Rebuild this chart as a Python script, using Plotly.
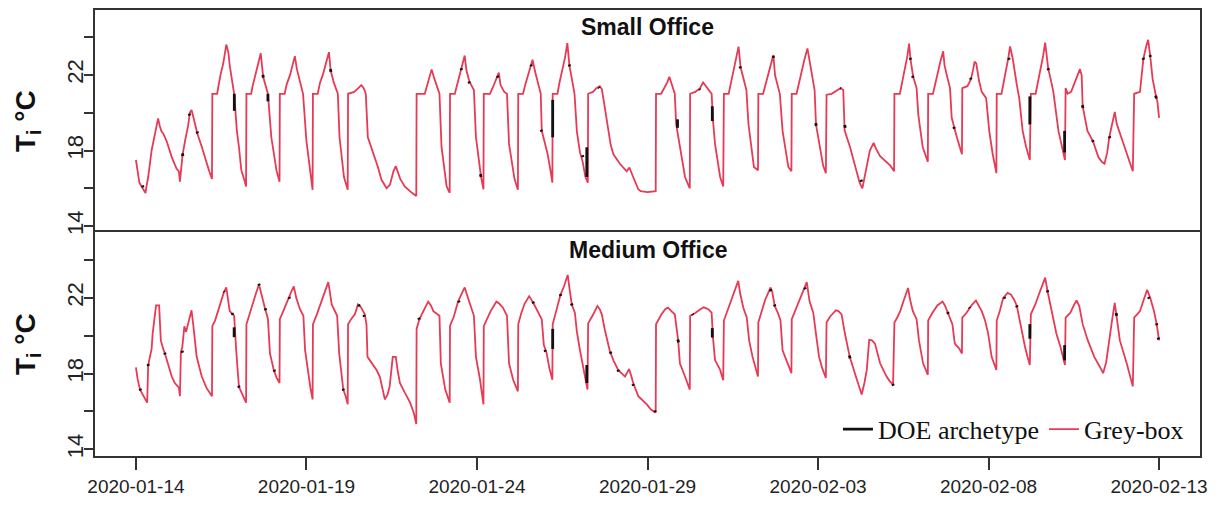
import pandas as pd
import plotly.graph_objects as go

START = pd.Timestamp("2020-01-14")

# ---------------- data (day offset since 2020-01-14 00:00, indoor temperature degC) -------------
small_grey = [
    (0.00, 17.5), (0.05, 17.0), (0.10, 16.3), (0.20, 16.0), (0.26, 15.8), (0.28, 15.75), (0.31, 16.1),
    (0.36, 16.6), (0.46, 18.0), (0.53, 18.7), (0.60, 19.4), (0.65, 19.7), (0.70, 19.3), (0.75, 19.0),
    (0.80, 18.9), (0.90, 18.5), (1.05, 17.65), (1.19, 17.05), (1.26, 16.9), (1.29, 16.35), (1.32, 16.9),
    (1.37, 17.8), (1.45, 18.6), (1.53, 19.3), (1.58, 20.0), (1.63, 20.15), (1.68, 19.8), (1.73, 19.4),
    (1.80, 18.9), (1.93, 18.2), (2.07, 17.3), (2.15, 16.9), (2.23, 16.5),
    (2.24, 21.0), (2.38, 21.0), (2.42, 21.45), (2.48, 22.0), (2.56, 22.6), (2.61, 23.2), (2.65, 23.6),
    (2.71, 23.2), (2.75, 22.5), (2.88, 21.0), (2.90, 20.4), (2.96, 19.04), (3.02, 18.2), (3.09, 16.96),
    (3.17, 16.5), (3.23, 16.1),
    (3.24, 21.0), (3.38, 21.0), (3.42, 21.4), (3.50, 22.0), (3.58, 22.5), (3.66, 23.14), (3.73, 21.9),
    (3.80, 21.4), (3.87, 21.0), (3.97, 18.7), (4.05, 17.8), (4.12, 16.96), (4.21, 16.35),
    (4.22, 21.0), (4.36, 21.0), (4.42, 21.5), (4.52, 22.0), (4.60, 22.5), (4.66, 22.99), (4.72, 22.3),
    (4.82, 21.6), (4.90, 21.0), (5.00, 18.5), (5.10, 16.96), (5.18, 15.92),
    (5.19, 21.0), (5.33, 21.0), (5.40, 21.6), (5.48, 22.0), (5.57, 22.6), (5.66, 23.2), (5.71, 22.24),
    (5.80, 21.6), (5.92, 21.0), (5.97, 18.7), (6.10, 16.6), (6.21, 15.92),
    (6.22, 21.0), (6.40, 21.1), (6.52, 21.3), (6.61, 21.46), (6.68, 21.3), (6.74, 21.0), (6.80, 18.7),
    (6.90, 18.2), (7.01, 17.65), (7.10, 17.1), (7.20, 16.45), (7.28, 16.2), (7.35, 16.0), (7.45, 16.2),
    (7.55, 16.9), (7.62, 17.17), (7.68, 16.9), (7.75, 16.5), (7.88, 16.1), (8.00, 15.9), (8.10, 15.75),
    (8.22, 15.6),
    (8.23, 21.0), (8.47, 21.0), (8.55, 21.5), (8.62, 22.0), (8.67, 22.29), (8.75, 21.8), (8.82, 21.4),
    (8.90, 21.0), (8.96, 18.2), (9.05, 16.8), (9.11, 16.1), (9.20, 15.76),
    (9.21, 21.0), (9.35, 21.0), (9.42, 21.5), (9.50, 22.0), (9.57, 22.5), (9.64, 23.02), (9.69, 22.24),
    (9.78, 21.64), (9.91, 21.2), (9.97, 18.7), (10.12, 16.6), (10.19, 15.95),
    (10.20, 21.0), (10.38, 21.0), (10.48, 21.4), (10.58, 21.9), (10.64, 22.12), (10.69, 21.46),
    (10.80, 21.1), (10.88, 21.0), (10.94, 18.35), (11.10, 16.5), (11.20, 15.92),
    (11.21, 21.0), (11.35, 21.0), (11.42, 21.5), (11.50, 22.0), (11.56, 22.5), (11.63, 22.8),
    (11.70, 22.2), (11.78, 21.6), (11.84, 21.2), (11.87, 21.0), (11.90, 19.04), (12.07, 17.83),
    (12.15, 17.0), (12.21, 16.3),
    (12.22, 21.0), (12.36, 21.0), (12.42, 21.6), (12.50, 22.2), (12.58, 22.9), (12.65, 23.68),
    (12.71, 22.5), (12.80, 21.6), (12.86, 21.0), (12.93, 19.0), (13.02, 17.9), (13.10, 17.4),
    (13.18, 16.6), (13.25, 16.3),
    (13.26, 21.0), (13.40, 21.1), (13.50, 21.3), (13.60, 21.4), (13.66, 21.25), (13.72, 20.6),
    (13.85, 19.04), (13.92, 18.3), (14.00, 17.8), (14.19, 17.3), (14.39, 16.9), (14.47, 17.1),
    (14.58, 16.6), (14.73, 15.95), (14.80, 15.85), (15.00, 15.8), (15.24, 15.85),
    (15.25, 21.0), (15.40, 21.0), (15.50, 21.3), (15.58, 21.6), (15.64, 21.9), (15.71, 21.55),
    (15.80, 21.0), (15.84, 19.4), (15.93, 18.35), (16.10, 16.6), (16.24, 16.0),
    (16.25, 21.0), (16.40, 21.1), (16.54, 21.3), (16.63, 21.6), (16.75, 21.3), (16.88, 21.0),
    (16.92, 19.6), (16.98, 18.35), (17.13, 16.6), (17.22, 16.1),
    (17.24, 21.0), (17.38, 21.0), (17.45, 21.6), (17.52, 22.2), (17.60, 22.9), (17.67, 23.49),
    (17.73, 22.4), (17.82, 21.7), (17.90, 21.2), (17.96, 19.4), (18.12, 17.13), (18.24, 16.96),
    (18.25, 21.0), (18.39, 21.0), (18.46, 21.5), (18.55, 22.0), (18.62, 22.5), (18.69, 23.05),
    (18.74, 21.98), (18.82, 21.4), (18.88, 21.0), (18.96, 19.04), (19.13, 17.13), (19.22, 16.9),
    (19.23, 21.0), (19.37, 21.0), (19.44, 21.6), (19.52, 22.2), (19.60, 22.8), (19.69, 23.4),
    (19.77, 22.5), (19.86, 21.4), (19.90, 21.2), (19.94, 19.38), (20.06, 18.0), (20.15, 17.2),
    (20.23, 16.8),
    (20.25, 20.95), (20.40, 21.0), (20.55, 21.2), (20.66, 21.3), (20.74, 21.2), (20.78, 19.05),
    (20.94, 18.17), (21.11, 16.96), (21.22, 16.3), (21.30, 16.0), (21.43, 17.13), (21.52, 18.0),
    (21.63, 18.4), (21.70, 18.1), (21.82, 17.7), (22.01, 17.4), (22.12, 17.2), (22.23, 16.9),
    (22.24, 21.0), (22.40, 21.0), (22.47, 21.6), (22.55, 22.3), (22.62, 23.0), (22.67, 23.65),
    (22.71, 22.85), (22.79, 21.9), (22.89, 21.3), (22.94, 19.9), (23.07, 18.17), (23.22, 17.4),
    (23.23, 21.0), (23.37, 21.0), (23.44, 21.6), (23.52, 22.2), (23.60, 22.8), (23.67, 23.25),
    (23.71, 22.5), (23.80, 21.8), (23.87, 21.3), (23.92, 19.73), (23.99, 19.2), (24.07, 18.7),
    (24.22, 17.8),
    (24.23, 21.3), (24.38, 21.4), (24.48, 21.75), (24.55, 22.3), (24.59, 22.7), (24.64, 22.6),
    (24.72, 21.7), (24.80, 21.1), (24.93, 20.77), (25.02, 19.04), (25.12, 17.83), (25.23, 16.8),
    (25.24, 21.0), (25.38, 21.0), (25.45, 21.6), (25.52, 22.3), (25.58, 22.9), (25.63, 23.5),
    (25.71, 22.85), (25.83, 21.46), (25.90, 20.77), (26.00, 19.04), (26.10, 18.2), (26.21, 17.5),
    (26.24, 21.0), (26.38, 21.0), (26.45, 21.6), (26.52, 22.3), (26.60, 23.0), (26.66, 23.7),
    (26.75, 22.33), (26.83, 21.7), (26.90, 21.1), (27.05, 19.04), (27.15, 18.2), (27.24, 17.5),
    (27.26, 21.3), (27.32, 21.0), (27.42, 21.1), (27.54, 21.64), (27.62, 22.0), (27.68, 22.3),
    (27.73, 21.98), (27.76, 20.34), (27.90, 19.04), (28.06, 18.5), (28.22, 17.65), (28.32, 17.4),
    (28.40, 17.3), (28.48, 17.9), (28.54, 18.7), (28.65, 19.6), (28.70, 20.04), (28.76, 19.4),
    (28.95, 18.35), (29.10, 17.5), (29.23, 16.9),
    (29.27, 21.0), (29.44, 21.1), (29.49, 21.98), (29.54, 22.85), (29.62, 23.5), (29.68, 23.85),
    (29.74, 23.0), (29.81, 21.8), (29.91, 20.86), (29.95, 20.6), (30.00, 19.73),
]

small_doe = [
    (2.885, 21.0), (2.885, 20.1), None, (3.87, 21.0), (3.87, 20.6), None,
    (12.22, 20.68), (12.22, 18.7), None, (13.22, 18.17), (13.22, 16.6), None,
    (15.88, 19.65), (15.88, 19.2), None, (16.90, 20.34), (16.90, 19.56), None,
    (26.21, 20.86), (26.21, 19.38), None, (27.23, 19.04), (27.23, 17.9), None,
    (0.19, 16.15), (0.21, 16.05), None, (1.36, 17.85), (1.38, 17.7), None,
    (1.56, 19.95), (1.58, 19.85), None, (1.79, 19.0), (1.81, 18.9), None,
    (3.72, 22.0), (3.74, 21.85), None, (5.70, 22.3), (5.72, 22.15), None,
    (9.53, 22.35), (9.55, 22.25), None, (9.76, 21.65), (9.78, 21.55), None,
    (10.10, 16.75), (10.12, 16.6), None, (10.60, 21.95), (10.62, 21.85), None,
    (11.58, 22.55), (11.60, 22.45), None, (11.88, 19.1), (11.90, 19.0), None,
    (12.70, 22.55), (12.72, 22.45), None, (13.09, 17.75), (13.11, 17.65), None,
    (13.57, 21.35), (13.59, 21.3), None, (16.52, 21.25), (16.54, 21.2), None,
    (17.71, 22.45), (17.73, 22.35), None, (18.68, 23.0), (18.70, 22.9), None,
    (19.93, 19.45), (19.95, 19.3), None, (20.65, 21.3), (20.67, 21.28), None,
    (20.78, 19.35), (20.80, 19.2), None, (21.26, 16.45), (21.28, 16.35), None,
    (22.70, 22.9), (22.72, 22.8), None, (22.77, 21.95), (22.79, 21.85), None,
    (23.98, 19.25), (24.00, 19.15), None, (24.47, 21.85), (24.49, 21.75), None,
    (25.59, 22.9), (25.61, 22.8), None, (26.74, 22.35), (26.76, 22.25), None,
    (27.75, 20.4), (27.77, 20.25), None, (28.05, 18.55), (28.07, 18.45), None,
    (28.54, 18.75), (28.56, 18.65), None, (29.53, 22.9), (29.55, 22.8), None,
    (29.73, 23.05), (29.75, 22.95), None, (29.90, 20.9), (29.92, 20.75),
]

medium_grey = [
    (0.00, 18.33), (0.05, 17.7), (0.12, 17.15), (0.20, 16.9), (0.28, 16.6), (0.33, 16.46),
    (0.36, 18.45), (0.46, 19.3), (0.49, 20.1), (0.53, 20.8), (0.59, 21.6), (0.68, 21.6), (0.70, 20.6),
    (0.73, 19.75), (0.80, 19.3), (0.85, 19.06), (0.95, 18.45), (1.05, 17.84), (1.14, 17.5),
    (1.26, 17.25), (1.29, 16.8),
    (1.32, 19.14), (1.36, 19.4), (1.42, 20.5), (1.47, 20.2), (1.52, 20.6), (1.58, 21.0), (1.63, 21.34),
    (1.68, 20.6), (1.78, 18.9), (1.93, 17.84), (2.07, 17.24), (2.23, 16.8),
    (2.24, 20.5), (2.32, 20.8), (2.42, 21.4), (2.51, 22.0), (2.58, 22.3), (2.65, 22.55), (2.70, 22.0),
    (2.75, 21.3), (2.88, 21.05), (2.90, 20.2), (2.94, 19.23), (3.02, 17.3), (3.14, 16.8), (3.23, 16.46),
    (3.24, 20.6), (3.34, 21.2), (3.44, 21.83), (3.53, 22.3), (3.61, 22.7), (3.70, 22.0), (3.78, 21.48),
    (3.87, 20.9), (3.93, 19.06), (4.04, 18.2), (4.12, 17.8), (4.21, 17.5),
    (4.22, 20.87), (4.32, 21.3), (4.47, 22.0), (4.55, 22.3), (4.63, 22.6), (4.70, 22.0), (4.81, 21.4),
    (4.91, 21.05), (4.96, 19.23), (5.05, 18.0), (5.12, 17.2), (5.18, 16.63),
    (5.19, 20.6), (5.30, 21.1), (5.45, 21.9), (5.55, 22.4), (5.64, 22.83), (5.68, 22.4), (5.74, 21.65),
    (5.90, 21.05), (5.96, 19.06), (6.08, 17.15), (6.15, 16.8), (6.21, 16.37),
    (6.22, 20.6), (6.32, 20.9), (6.42, 21.13), (6.51, 21.65), (6.60, 21.5), (6.71, 21.13), (6.76, 20.6),
    (6.79, 18.88), (6.91, 18.54), (7.05, 18.2), (7.15, 17.84), (7.22, 17.2), (7.30, 16.63),
    (7.38, 16.9), (7.44, 17.32), (7.53, 18.88), (7.62, 18.88), (7.67, 18.2), (7.74, 17.5),
    (7.88, 17.0), (8.04, 16.46), (8.15, 15.9), (8.22, 15.33),
    (8.23, 20.36), (8.30, 20.8), (8.40, 21.2), (8.50, 21.6), (8.57, 21.8), (8.65, 21.6), (8.72, 21.3),
    (8.90, 21.05), (8.94, 18.54), (9.07, 17.15), (9.14, 16.8), (9.20, 16.46),
    (9.21, 20.53), (9.32, 21.0), (9.45, 21.83), (9.55, 22.2), (9.64, 22.55), (9.70, 22.2), (9.82, 21.48),
    (9.91, 21.05), (9.97, 18.88), (10.09, 17.67), (10.19, 16.37),
    (10.20, 20.5), (10.30, 20.9), (10.40, 21.3), (10.50, 21.6), (10.57, 21.8), (10.65, 21.7),
    (10.76, 21.48), (10.88, 21.05), (10.94, 18.54), (11.06, 17.67), (11.14, 17.3), (11.20, 17.06),
    (11.21, 20.6), (11.30, 21.2), (11.40, 21.7), (11.53, 22.09), (11.65, 21.74), (11.80, 21.2),
    (11.90, 20.87), (11.96, 19.5), (12.04, 19.1), (12.12, 18.3), (12.21, 17.67),
    (12.22, 20.6), (12.32, 21.3), (12.45, 22.17), (12.55, 22.6), (12.66, 23.21), (12.72, 22.4),
    (12.78, 21.65), (12.87, 21.22), (12.93, 20.2), (13.02, 19.23), (13.12, 18.36), (13.18, 17.8),
    (13.24, 17.15),
    (13.26, 20.65), (13.35, 20.9), (13.41, 21.13), (13.53, 21.57), (13.60, 21.4), (13.66, 21.13),
    (13.75, 20.3), (13.89, 19.23), (14.00, 18.7), (14.14, 18.19), (14.34, 17.84), (14.42, 18.1),
    (14.46, 18.24), (14.52, 17.9), (14.58, 17.5), (14.73, 16.8), (14.98, 16.37), (15.10, 16.1),
    (15.24, 15.94),
    (15.25, 20.6), (15.33, 20.9), (15.41, 21.13), (15.52, 21.4), (15.60, 21.48), (15.70, 21.3),
    (15.80, 21.13), (15.90, 19.75), (15.95, 18.54), (16.10, 17.84), (16.18, 17.5), (16.24, 17.15),
    (16.25, 21.05), (16.40, 21.2), (16.55, 21.4), (16.65, 21.5), (16.78, 21.4), (16.88, 21.22),
    (16.92, 19.9), (16.98, 18.71), (17.13, 18.19), (17.22, 17.64),
    (17.24, 20.8), (17.32, 21.2), (17.41, 21.65), (17.50, 22.1), (17.58, 22.5), (17.66, 22.9),
    (17.72, 22.2), (17.81, 21.48), (17.91, 20.96), (17.98, 19.75), (18.08, 18.88), (18.16, 18.3),
    (18.24, 17.84),
    (18.25, 20.7), (18.35, 21.3), (18.45, 21.9), (18.55, 22.3), (18.61, 22.55), (18.66, 22.3),
    (18.73, 21.57), (18.82, 21.22), (18.90, 20.8), (18.96, 19.23), (19.10, 18.54), (19.22, 18.02),
    (19.23, 20.87), (19.33, 21.3), (19.45, 21.9), (19.57, 22.4), (19.67, 22.83), (19.75, 21.83),
    (19.86, 21.22), (19.94, 20.1), (20.03, 18.88), (20.12, 18.3), (20.23, 17.76),
    (20.25, 20.7), (20.35, 21.0), (20.45, 21.2), (20.52, 21.34), (20.60, 21.3), (20.69, 21.13),
    (20.79, 20.1), (20.93, 18.88), (21.11, 17.84), (21.20, 17.3), (21.28, 16.89), (21.36, 17.5),
    (21.43, 18.19), (21.50, 19.78), (21.58, 19.75), (21.67, 19.58), (21.82, 18.54), (22.01, 17.84),
    (22.10, 17.6), (22.20, 17.41),
    (22.24, 20.7), (22.32, 20.95), (22.41, 21.3), (22.52, 21.9), (22.64, 22.52), (22.70, 21.9),
    (22.78, 21.3), (22.89, 20.87), (22.96, 19.75), (23.08, 18.54), (23.15, 18.2), (23.22, 17.93),
    (23.23, 20.8), (23.35, 21.2), (23.50, 21.6), (23.65, 21.8), (23.72, 21.6), (23.81, 21.22),
    (23.94, 20.61), (24.01, 19.58), (24.14, 19.32), (24.22, 19.06),
    (24.23, 20.96), (24.35, 21.2), (24.50, 21.6), (24.63, 21.86), (24.70, 21.6), (24.80, 21.3),
    (24.90, 20.79), (24.99, 20.1), (25.09, 18.88), (25.17, 18.5), (25.23, 18.19),
    (25.24, 20.8), (25.33, 21.3), (25.43, 22.0), (25.56, 22.26), (25.66, 22.17), (25.75, 21.9),
    (25.83, 21.57), (25.95, 20.44), (26.07, 19.4), (26.14, 18.9), (26.21, 18.45),
    (26.24, 21.13), (26.37, 21.65), (26.48, 22.2), (26.58, 22.7), (26.66, 23.07), (26.73, 22.35),
    (26.86, 21.3), (26.99, 20.1), (27.11, 19.4), (27.18, 18.9), (27.24, 18.45),
    (27.26, 20.96), (27.40, 21.22), (27.50, 21.6), (27.58, 21.86), (27.66, 21.57), (27.76, 20.61),
    (27.91, 19.75), (28.10, 18.88), (28.25, 18.4), (28.36, 18.02), (28.45, 18.6), (28.55, 19.75),
    (28.62, 20.8), (28.70, 21.74), (28.75, 21.13), (28.85, 19.75), (29.05, 18.54), (29.15, 17.9),
    (29.23, 17.32),
    (29.27, 20.96), (29.35, 21.1), (29.44, 21.3), (29.55, 21.9), (29.65, 22.43), (29.74, 22.0),
    (29.85, 21.3), (29.93, 20.61), (30.00, 19.75),
]

medium_doe = [
    (2.88, 20.44), (2.88, 19.92), None, (12.22, 20.36), (12.22, 19.3), None,
    (13.22, 18.45), (13.22, 17.5), None, (16.90, 20.4), (16.90, 19.9), None,
    (26.21, 20.61), (26.21, 19.84), None, (27.23, 19.5), (27.23, 18.7), None,
    (0.12, 17.2), (0.14, 17.1), None, (0.35, 18.5), (0.37, 18.4), None,
    (0.84, 19.1), (0.86, 19.0), None, (1.35, 19.2), (1.37, 19.1), None,
    (2.58, 22.35), (2.60, 22.3), None, (2.82, 21.2), (2.84, 21.1), None,
    (3.01, 17.35), (3.03, 17.25), None, (3.60, 22.75), (3.62, 22.65), None,
    (3.79, 21.45), (3.81, 21.35), None, (4.05, 18.2), (4.07, 18.1), None,
    (4.49, 22.05), (4.51, 21.95), None, (6.07, 17.2), (6.09, 17.1), None,
    (6.53, 21.65), (6.55, 21.55), None, (6.68, 21.1), (6.70, 21.0), None,
    (8.29, 20.95), (8.31, 20.85), None, (9.46, 21.85), (9.48, 21.75), None,
    (11.64, 21.8), (11.66, 21.7), None, (11.99, 19.25), (12.01, 19.15), None,
    (12.44, 22.2), (12.46, 22.1), None, (12.77, 21.7), (12.79, 21.6), None,
    (13.91, 19.15), (13.93, 19.05), None, (14.13, 18.2), (14.15, 18.1), None,
    (14.57, 17.45), (14.59, 17.35), None, (15.21, 16.05), (15.23, 15.95), None,
    (15.89, 19.8), (15.91, 19.65), None, (16.32, 21.15), (16.34, 21.1), None,
    (18.60, 22.45), (18.62, 22.35), None, (18.72, 21.65), (18.74, 21.55), None,
    (19.61, 22.55), (19.63, 22.45), None, (20.92, 18.95), (20.94, 18.8), None,
    (22.19, 17.45), (22.21, 17.35), None, (23.80, 21.25), (23.82, 21.15), None,
    (24.43, 21.5), (24.45, 21.45), None, (25.46, 22.05), (25.48, 21.95), None,
    (25.82, 21.6), (25.84, 21.5), None, (26.72, 22.4), (26.74, 22.3), None,
    (28.74, 21.2), (28.76, 21.05), None, (29.69, 22.05), (29.71, 21.95), None,
    (29.92, 20.65), (29.94, 20.55), None, (29.97, 19.9), (29.99, 19.8),
]

x_tick_dates = ["2020-01-14", "2020-01-19", "2020-01-24", "2020-01-29",
                "2020-02-03", "2020-02-08", "2020-02-13"]
y_tick_labels = [14, 18, 22]
panel_titles = ["Small Office", "Medium Office"]
series_names = ["DOE archetype", "Grey-box"]


def unzip(pairs):
    xs, ys = [], []
    for p in pairs:
        if p is None:
            xs.append(None)
            ys.append(None)
        else:
            xs.append(START + pd.Timedelta(days=p[0]))
            ys.append(p[1])
    return xs, ys


RED = "#E63A55"
BLACK = "#111111"

fig = go.Figure()

for pairs_g, pairs_d, ax, show in [(small_grey, small_doe, ("x2", "y2"), True),
                                   (medium_grey, medium_doe, ("x", "y"), False)]:
    gx, gy = unzip(pairs_g)
    dx, dy = unzip(pairs_d)
    fig.add_trace(go.Scatter(x=gx, y=gy, mode="lines", name=series_names[1],
                             line=dict(color=RED, width=1.8), xaxis=ax[0], yaxis=ax[1],
                             showlegend=show, legendrank=2, hoverinfo="skip"))
    fig.add_trace(go.Scatter(x=dx, y=dy, mode="lines", name=series_names[0],
                             line=dict(color=BLACK, width=2.8), xaxis=ax[0], yaxis=ax[1],
                             showlegend=show, legendrank=1, connectgaps=False, hoverinfo="skip"))

x_range = [START - pd.Timedelta(hours=28.8), START + pd.Timedelta(days=31.2)]
split = 0.5022
LINE_C = "#333333"
tick_font = dict(family="Liberation Sans, Arial, sans-serif", size=19, color="#222222")
ytick_font = dict(family="Liberation Sans, Arial, sans-serif", size=22, color="#222222")


def y_axis(domain, anchor, rng):
    return dict(domain=domain, anchor=anchor, range=rng,
                tickvals=y_tick_labels, ticktext=[str(v) for v in y_tick_labels],
                ticks="outside", ticklen=9, tickwidth=1.6, tickcolor=LINE_C,
                minor=dict(dtick=2, tick0=14, ticks="outside", ticklen=9, tickwidth=1.6,
                           tickcolor=LINE_C, showgrid=False),
                tickangle=-90, tickfont=ytick_font, ticklabelstandoff=-8,
                showline=True, linecolor=LINE_C, linewidth=1.6, mirror=True,
                showgrid=False, zeroline=False)


fig.update_layout(
    width=1218, height=507,
    margin=dict(l=95, r=18, t=10, b=43),
    paper_bgcolor="white", plot_bgcolor="white",
    xaxis=dict(domain=[0, 1], anchor="y", type="date", range=x_range,
               tickvals=x_tick_dates, ticktext=x_tick_dates, ticks="outside", ticklen=12,
               tickwidth=1.6, tickcolor=LINE_C, tickfont=tick_font,
               showline=True, linecolor=LINE_C, linewidth=1.6, mirror=True,
               showgrid=False, zeroline=False),
    xaxis2=dict(domain=[0, 1], anchor="y2", type="date", range=x_range, matches="x",
                side="top", showticklabels=False, ticks="",
                showline=True, linecolor=LINE_C, linewidth=1.6, mirror=False,
                showgrid=False, zeroline=False),
    yaxis=y_axis([0, split], "x", [13.64, 25.48]),
    yaxis2=y_axis([split, 1], "x2", [13.69, 25.43]),
    legend=dict(orientation="h", x=0.99, xanchor="right", y=0.06, yanchor="middle",
                bgcolor="rgba(0,0,0,0)", borderwidth=0,
                font=dict(family="Liberation Serif, Times New Roman, serif", size=26,
                          color="#111111")),
    showlegend=True,
)

title_font = dict(family="Liberation Sans, Arial, sans-serif", size=23, color="#111111")
fig.add_annotation(text="<b>" + panel_titles[0] + "</b>", xref="paper", yref="paper",
                   x=0.5, y=0.9626, xanchor="center", yanchor="middle", showarrow=False,
                   font=title_font)
fig.add_annotation(text="<b>" + panel_titles[1] + "</b>", xref="paper", yref="paper",
                   x=0.5, y=0.4626, xanchor="center", yanchor="middle", showarrow=False,
                   font=title_font)

ytitle_font = dict(family="Liberation Sans, Arial, sans-serif", size=28, color="#111111")
for yc in [(1 + split) / 2, split / 2]:
    fig.add_annotation(text="<b>T<sub>i</sub> °C</b>", xref="paper", yref="paper",
                       x=-0.0615, y=yc, xanchor="center", yanchor="middle", textangle=-90,
                       showarrow=False, font=ytitle_font)

fig.write_html("out.html", config={"displayModeBar": False},
               post_script="document.body.style.margin='0';document.body.style.overflow='hidden';")
